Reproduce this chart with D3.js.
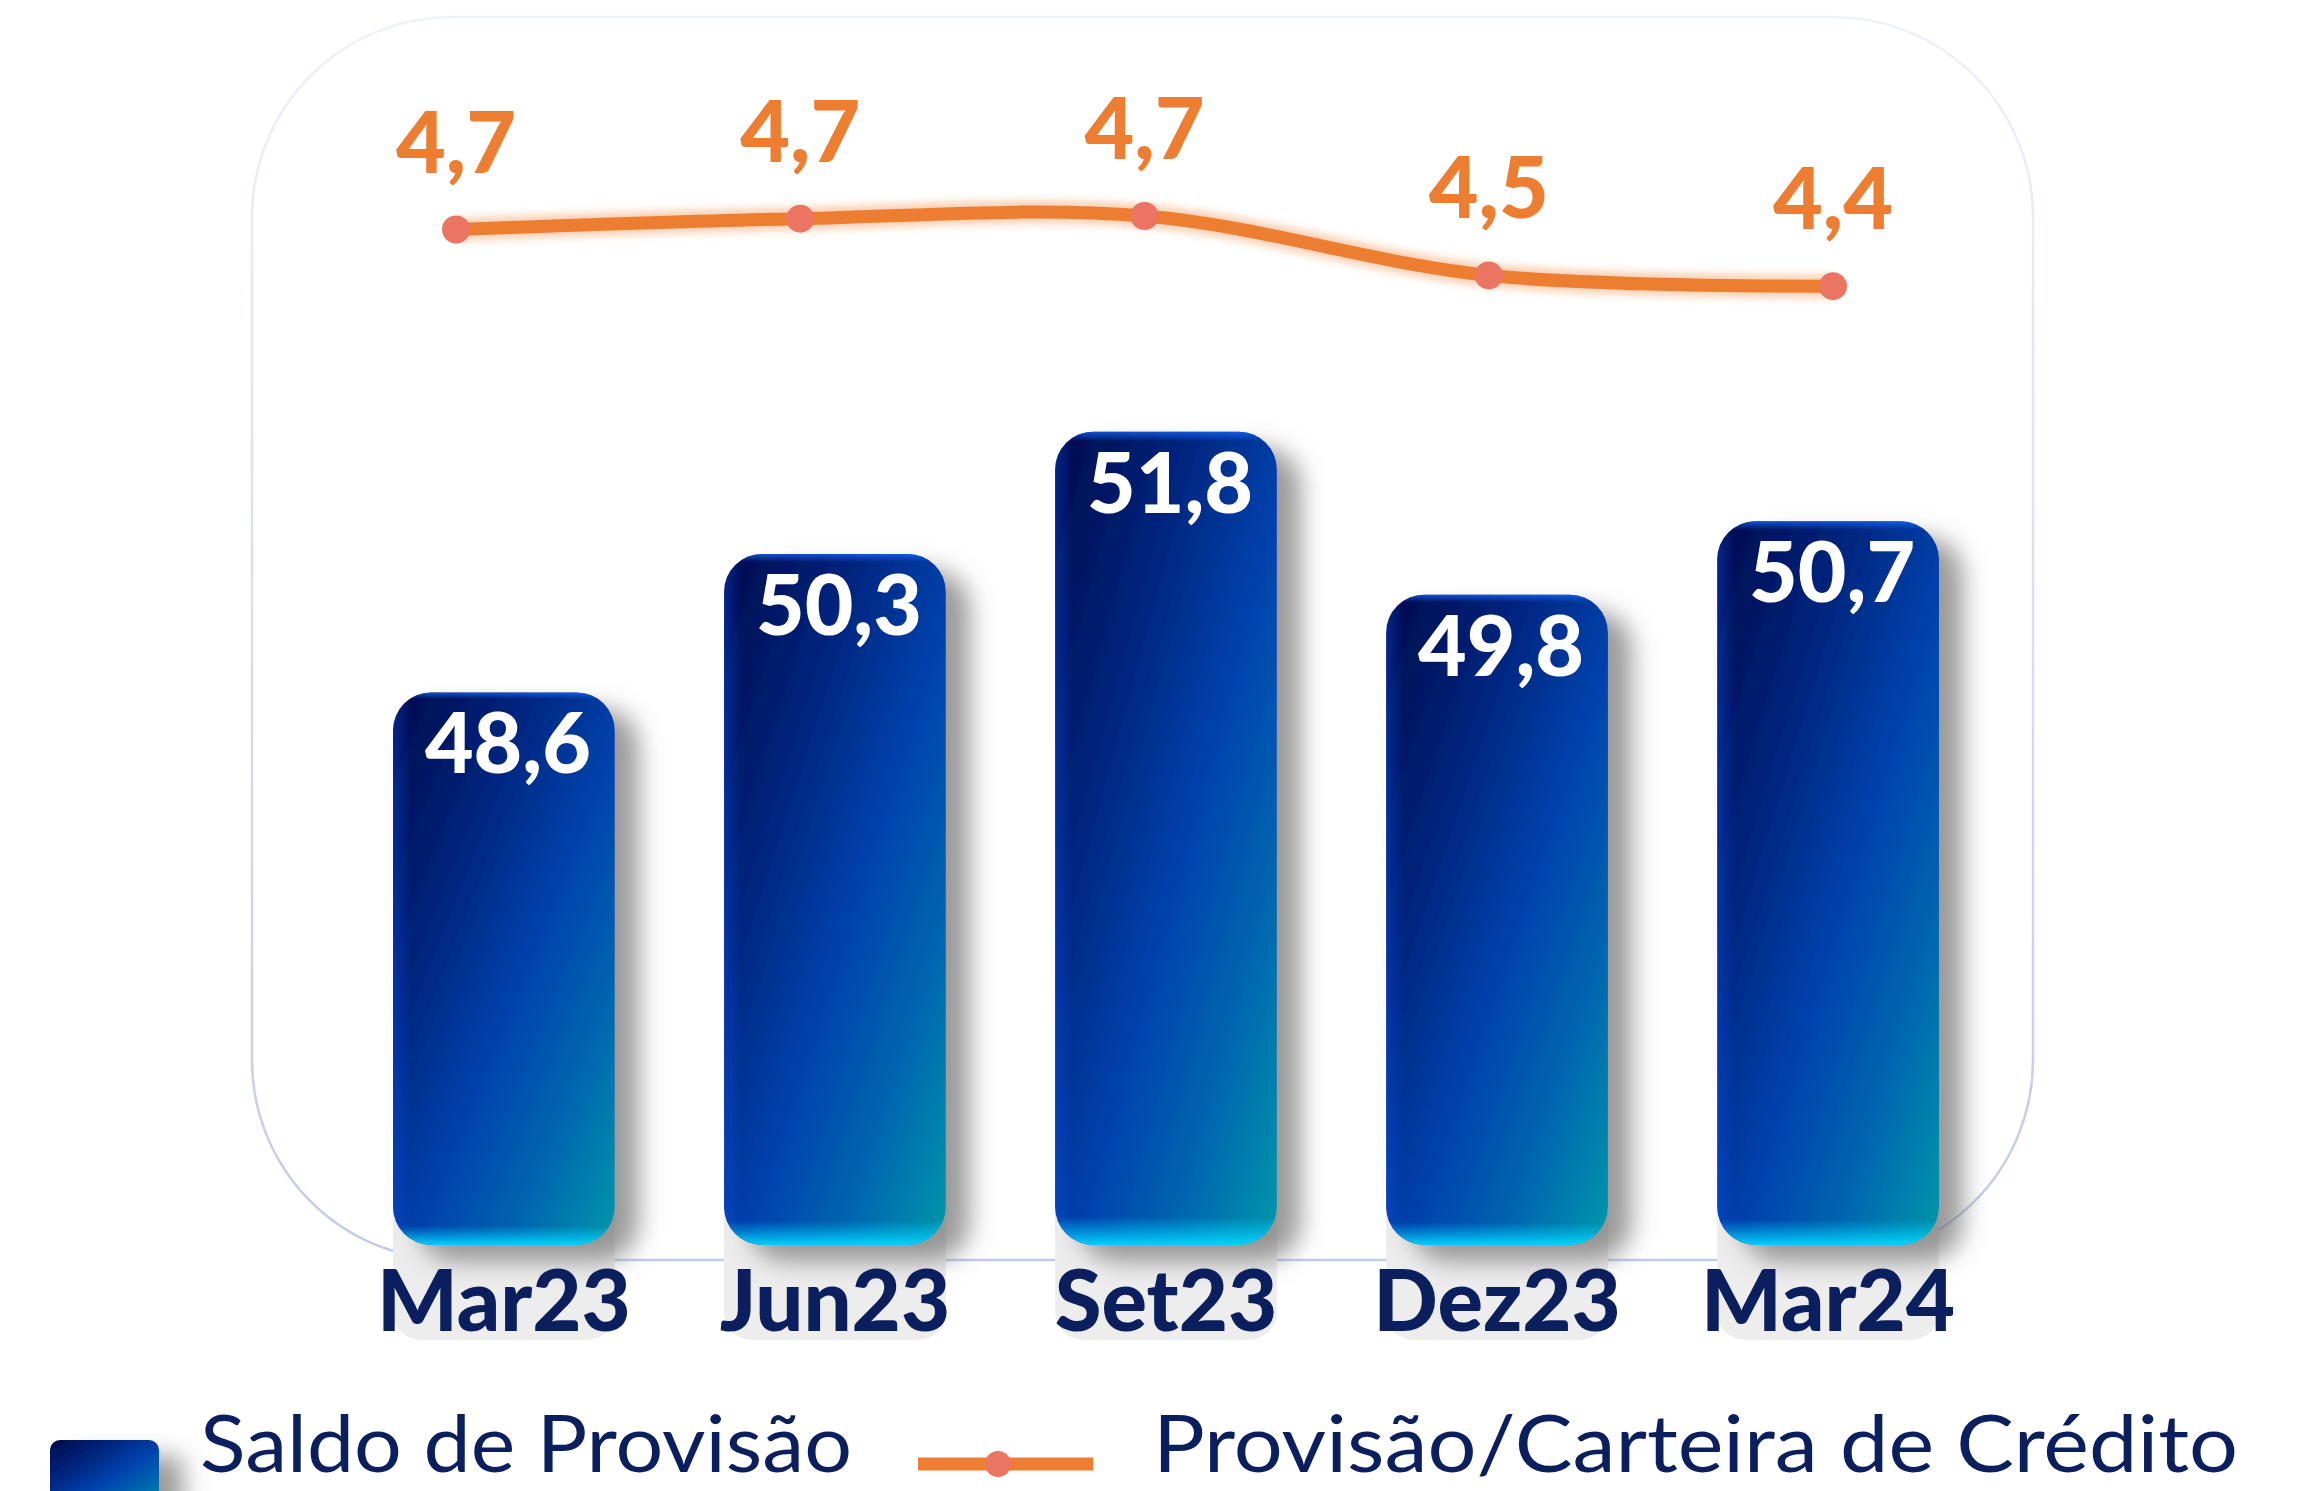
<!DOCTYPE html>
<html>
<head>
<meta charset="utf-8">
<script src="https://cdn.jsdelivr.net/npm/d3@7"></script>
<style>
  body { margin: 0; background: #fff; }
  svg { display: block; }
</style>
</head>
<body>
<div id="chart"></div>
<script>
var categories = ["Mar23", "Jun23", "Set23", "Dez23", "Mar24"];
var saldoProvisao = [48.6, 50.3, 51.8, 49.8, 50.7];
var provisaoCarteira = [4.67, 4.71, 4.72, 4.50, 4.46];
var provisaoLabels = ["4,7", "4,7", "4,7", "4,5", "4,4"];
var legendLabels = ["Saldo de Provisão", "Provisão/Carteira de Crédito"];

var width = 2297, height = 1491;
var navy = "#0b1f5e", orange = "#ed7d31", dotColor = "#ec7463";
var baseY = 1245;

var fmt = d3.formatLocale({ decimal: ",", thousands: ".", grouping: [3], currency: ["R$", ""] }).format(".1f");

var svg = d3.select("#chart").append("svg")
  .attr("width", width).attr("height", height);

var defs = svg.append("defs");

// bar gradient, dark navy top-left to teal bottom-right
var g1 = defs.append("linearGradient").attr("id", "barFill")
  .attr("x1", 0).attr("y1", 0).attr("x2", 1).attr("y2", 1);
[[0, "#000a4c"], [0.3, "#00257e"], [0.55, "#0042ad"], [0.78, "#0068b0"], [1, "#0098aa"]].forEach(s => {
  g1.append("stop").attr("offset", s[0]).attr("stop-color", s[1]);
});

// thin cyan rim at the bottom, bright edge at the top
var g2 = defs.append("linearGradient").attr("id", "barRim")
  .attr("x1", 0).attr("y1", 0).attr("x2", 0).attr("y2", 1);
g2.append("stop").attr("offset", 0).attr("stop-color", "#1a6cff").attr("stop-opacity", 0.7);
g2.append("stop").attr("offset", 0.012).attr("stop-color", "#1a6cff").attr("stop-opacity", 0);
g2.append("stop").attr("offset", 0.965).attr("stop-color", "#00c8ff").attr("stop-opacity", 0);
g2.append("stop").attr("offset", 1).attr("stop-color", "#00d8ff").attr("stop-opacity", 0.95);

// blue on the left edge
var g3 = defs.append("linearGradient").attr("id", "barSide")
  .attr("x1", 0).attr("y1", 0).attr("x2", 1).attr("y2", 0);
g3.append("stop").attr("offset", 0).attr("stop-color", "#0a55f0").attr("stop-opacity", 0.35);
g3.append("stop").attr("offset", 0.08).attr("stop-color", "#0a55f0").attr("stop-opacity", 0);

var g4 = defs.append("linearGradient").attr("id", "frameStroke")
  .attr("gradientUnits", "userSpaceOnUse")
  .attr("x1", 0).attr("y1", 17).attr("x2", 0).attr("y2", 1260);
g4.append("stop").attr("offset", 0).attr("stop-color", "#eff1f9");
g4.append("stop").attr("offset", 1).attr("stop-color", "#bfcbea");

var shadow = defs.append("filter").attr("id", "barShadow")
  .attr("x", "-20%").attr("y", "-10%").attr("width", "170%").attr("height", "130%");
shadow.append("feDropShadow").attr("dx", 24).attr("dy", 16)
  .attr("stdDeviation", 12).attr("flood-color", "#707070").attr("flood-opacity", 0.7);

var glow = defs.append("filter").attr("id", "lineGlow")
  .attr("x", "-5%").attr("y", "-50%").attr("width", "110%").attr("height", "200%");
glow.append("feGaussianBlur").attr("stdDeviation", 4);

// frame
svg.append("rect")
  .attr("x", 252).attr("y", 17)
  .attr("width", 2033 - 252).attr("height", 1260 - 17)
  .attr("rx", 200).attr("ry", 200)
  .attr("fill", "none")
  .attr("stroke", "url(#frameStroke)")
  .attr("stroke-width", 2.5);

// scales
var x = d3.scaleBand().domain(categories)
  .range([393, 1939]).paddingInner(0.33).paddingOuter(0);
var y = d3.scaleLinear().domain([41.82, 51.82]).range([baseY, 430]);

var xLine = d3.scalePoint().domain(categories).range([456, 1833]);
var yLine = d3.scaleLinear().domain([4.4, 4.8]).range([302.4, 194.4]);

var bars = categories.map((c, i) => ({ cat: c, v: saldoProvisao[i] }));

// gray reflection panels behind the labels
svg.append("g").selectAll("rect")
  .data(bars).enter()
  .append("rect")
  .attr("x", d => x(d.cat))
  .attr("y", baseY - 90)
  .attr("width", x.bandwidth())
  .attr("height", 1340 - (baseY - 90))
  .attr("rx", 28)
  .attr("fill", "#ededed");

var barG = svg.append("g");

function barRects(cls, fill) {
  return barG.selectAll("rect." + cls)
    .data(bars).enter()
    .append("rect").attr("class", cls)
    .attr("x", d => x(d.cat))
    .attr("y", d => y(d.v))
    .attr("width", x.bandwidth())
    .attr("height", d => baseY - y(d.v))
    .attr("rx", 38)
    .attr("fill", fill);
}

barRects("bar", "url(#barFill)").attr("filter", "url(#barShadow)");
barRects("side", "url(#barSide)");
barRects("rim", "url(#barRim)");

barG.selectAll("text")
  .data(bars).enter()
  .append("text")
  .attr("x", d => x(d.cat) + x.bandwidth() / 2 + 4)
  .attr("y", d => y(d.v) + 81)
  .attr("text-anchor", "middle")
  .attr("font-family", "Lato, 'Liberation Sans', sans-serif")
  .attr("font-weight", 900)
  .attr("font-size", 84)
  .attr("fill", "#fff")
  .text(d => fmt(d.v));

// category axis
var axis = svg.append("g")
  .attr("transform", "translate(0," + baseY + ")")
  .call(d3.axisBottom(x).tickSize(0));
axis.select(".domain").remove();
axis.selectAll("text")
  .attr("y", 86).attr("dy", 0)
  .attr("font-family", "Lato, 'Liberation Sans', sans-serif")
  .attr("font-weight", 900)
  .attr("font-size", 85)
  .attr("fill", navy);

// line series
var pts = categories.map((c, i) => ({ cat: c, v: provisaoCarteira[i], label: provisaoLabels[i] }));
var line = d3.line()
  .x(d => xLine(d.cat))
  .y(d => yLine(d.v))
  .curve(d3.curveCatmullRom.alpha(0.5));

svg.append("path").datum(pts)
  .attr("d", line)
  .attr("fill", "none")
  .attr("stroke", orange)
  .attr("stroke-opacity", 0.4)
  .attr("stroke-width", 22)
  .attr("filter", "url(#lineGlow)");

svg.append("path").datum(pts)
  .attr("d", line)
  .attr("fill", "none")
  .attr("stroke", orange)
  .attr("stroke-width", 13);

svg.append("g").selectAll("circle")
  .data(pts).enter()
  .append("circle")
  .attr("cx", d => xLine(d.cat))
  .attr("cy", d => yLine(d.v))
  .attr("r", 14)
  .attr("fill", dotColor);

svg.append("g").selectAll("text")
  .data(pts).enter()
  .append("text")
  .attr("x", d => xLine(d.cat))
  .attr("y", d => yLine(d.v) - 57)
  .attr("text-anchor", "middle")
  .attr("font-family", "Lato, 'Liberation Sans', sans-serif")
  .attr("font-weight", 900)
  .attr("font-size", 86)
  .attr("fill", orange)
  .text(d => d.label);

// legend
var leg = svg.append("g");
leg.append("rect")
  .attr("x", 50).attr("y", 1440)
  .attr("width", 109).attr("height", 70)
  .attr("rx", 10)
  .attr("fill", "url(#barFill)")
  .attr("filter", "url(#barShadow)");

leg.append("text")
  .attr("x", 200).attr("y", 1472)
  .attr("font-family", "Lato, sans-serif")
  .attr("font-size", 80)
  .attr("fill", navy)
  .attr("textLength", 652)
  .attr("lengthAdjust", "spacingAndGlyphs")
  .text(legendLabels[0]);

leg.append("line")
  .attr("x1", 918).attr("x2", 1093)
  .attr("y1", 1464).attr("y2", 1464)
  .attr("stroke", orange).attr("stroke-width", 13);
leg.append("circle")
  .attr("cx", 998).attr("cy", 1464).attr("r", 13)
  .attr("fill", dotColor);

leg.append("text")
  .attr("x", 1153).attr("y", 1472)
  .attr("font-family", "Lato, sans-serif")
  .attr("font-size", 80)
  .attr("fill", navy)
  .attr("textLength", 2238 - 1153)
  .attr("lengthAdjust", "spacingAndGlyphs")
  .text(legendLabels[1]);
</script>
</body>
</html>
